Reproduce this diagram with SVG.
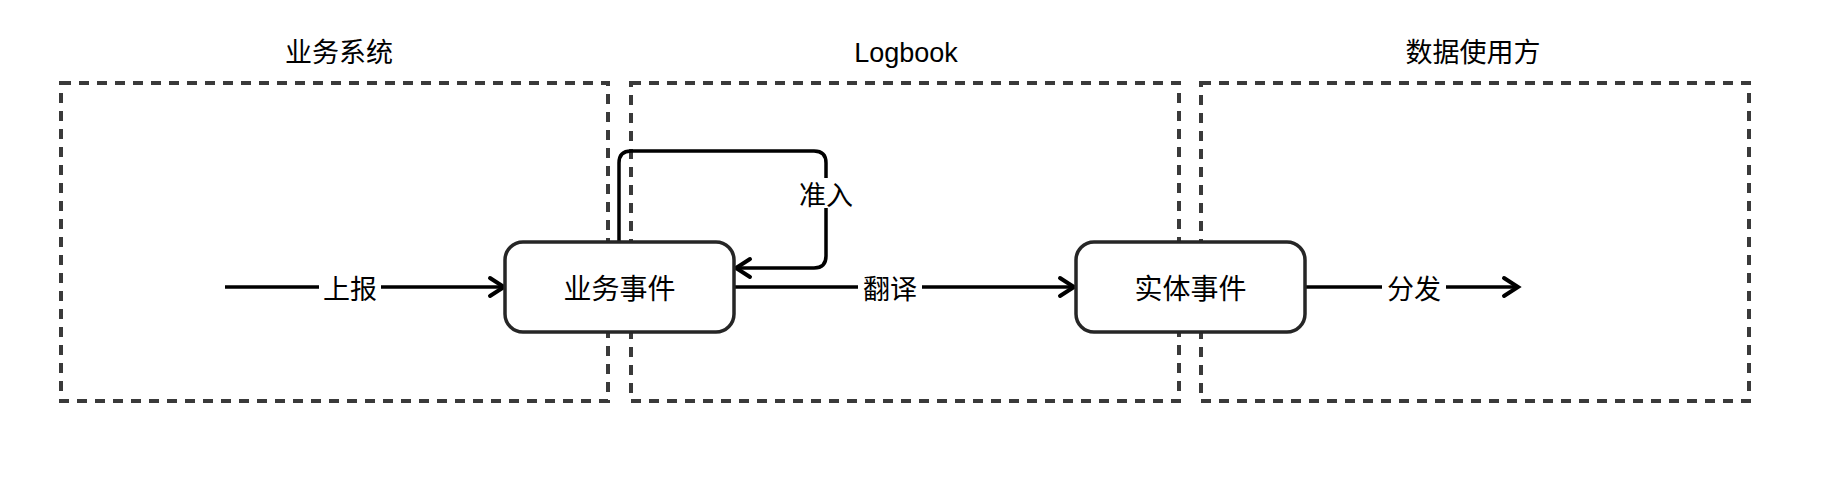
<svg xmlns="http://www.w3.org/2000/svg" width="1842" height="498" viewBox="0 0 1842 498">
  <style>
    .zone { fill: none; stroke: #3a3a3a; stroke-width: 4; stroke-dasharray: 10 8; }
    .title { font-family: "Noto Sans CJK SC", "Liberation Sans", sans-serif; font-size: 27px; fill: #000; text-anchor: middle; }
    .title-latin { font-family: "Liberation Sans", "Noto Sans", sans-serif; font-size: 27px; fill: #000; text-anchor: middle; }
    .node rect { fill: #fff; stroke: #262626; stroke-width: 3.5; }
    .node text { font-family: "Noto Sans CJK SC", sans-serif; font-size: 28px; fill: #000; text-anchor: middle; dominant-baseline: central; }
    .edge { fill: none; stroke: #000; stroke-width: 3.5; stroke-linejoin: round; }
    .lbl-bg { fill: #fff; }
    .lbl { font-family: "Noto Sans CJK SC", sans-serif; font-size: 27px; fill: #000; text-anchor: middle; dominant-baseline: central; }
  </style>
  <defs>
    <marker id="arrow" markerUnits="userSpaceOnUse" viewBox="-18 -13 24 26" markerWidth="24" markerHeight="26" refX="0" refY="0" orient="auto">
      <path d="M -12 -9 L 2 0 L -12 9" fill="none" stroke="#000" stroke-width="4" stroke-linejoin="miter" stroke-linecap="round"/>
    </marker>
  </defs>
  <rect width="1842" height="498" fill="#fff"/>

  <g id="zone-business">
    <rect class="zone" x="61" y="83" width="547" height="318"/>
    <text class="title" x="339" y="62">业务系统</text>
  </g>
  <g id="zone-logbook">
    <rect class="zone" x="631" y="83" width="548" height="318"/>
    <text class="title-latin" x="906" y="62">Logbook</text>
  </g>
  <g id="zone-consumers">
    <rect class="zone" x="1201" y="83" width="548" height="318"/>
    <text class="title" x="1473" y="62">数据使用方</text>
  </g>

  <g id="connectors">
    <path class="edge" d="M 225 287 L 502 287" marker-end="url(#arrow)"/>
    <path class="edge" d="M 619 242 L 619 163 Q 619 151 631 151 L 814 151 Q 826 151 826 163 L 826 256 Q 826 268 814 268 L 738 268" marker-end="url(#arrow)"/>
    <path class="edge" d="M 734 287 L 1072 287" marker-end="url(#arrow)"/>
    <path class="edge" d="M 1305 287 L 1516 287" marker-end="url(#arrow)"/>
    <g id="label-report">
      <rect class="lbl-bg" x="319" y="272" width="62" height="30"/>
      <text class="lbl" x="350" y="287">上报</text>
    </g>
    <g id="label-admit">
      <rect class="lbl-bg" x="795" y="178" width="62" height="30"/>
      <text class="lbl" x="826" y="193">准入</text>
    </g>
    <g id="label-translate">
      <rect class="lbl-bg" x="858" y="272" width="64" height="30"/>
      <text class="lbl" x="890" y="287">翻译</text>
    </g>
    <g id="label-dispatch">
      <rect class="lbl-bg" x="1382" y="272" width="64" height="30"/>
      <text class="lbl" x="1414" y="287">分发</text>
    </g>
  </g>

  <g id="node-business-event" class="node">
    <rect x="505" y="242" width="229" height="90" rx="18" ry="18"/>
    <text x="619.5" y="287">业务事件</text>
  </g>
  <g id="node-entity-event" class="node">
    <rect x="1076" y="242" width="229" height="90" rx="18" ry="18"/>
    <text x="1190.5" y="287">实体事件</text>
  </g>
</svg>
